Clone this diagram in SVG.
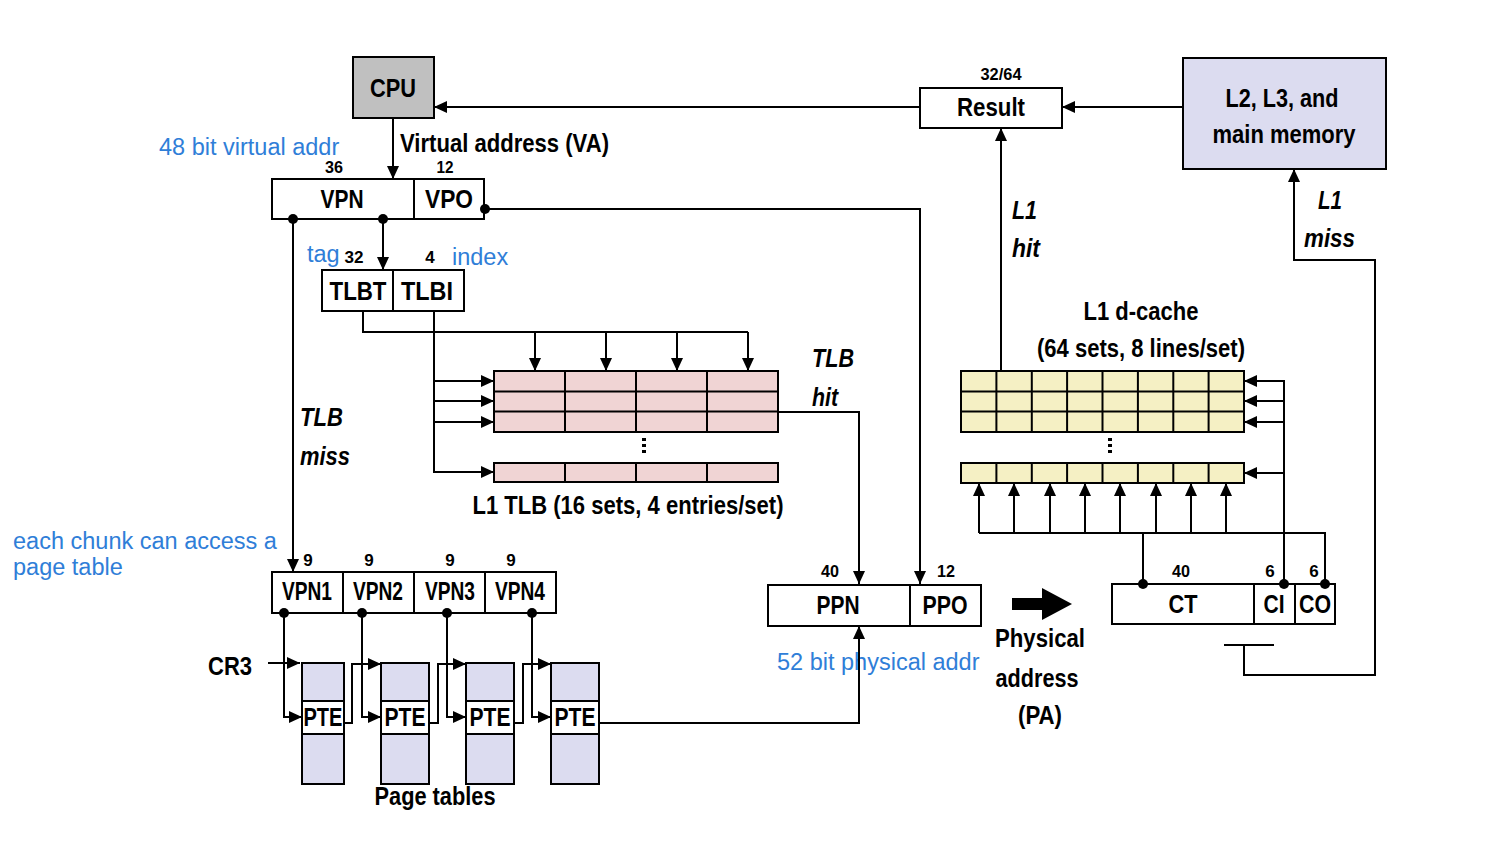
<svg xmlns="http://www.w3.org/2000/svg" width="1492" height="866" viewBox="0 0 1492 866">
  <style>
    .box { fill: #ffffff; stroke: #000000; stroke-width: 2; }
    .cpu { fill: #c0c0c0; }
    .mem { fill: #dcdcf0; }
    .tlb { fill: #f0d4d4; stroke: #000000; stroke-width: 2; }
    .cache { fill: #f5f0c4; stroke: #000000; stroke-width: 2; }
    .pt { fill: #dcdcf0; stroke: #000000; stroke-width: 2; }
    .wire { fill: none; stroke: #000000; stroke-width: 2; }
    .lbl { font-family: "Liberation Sans", Arial, Helvetica, sans-serif; font-weight: bold; font-size: 25px; text-anchor: middle; fill: #000000; }
    .num { font-size: 17px; }
    .it { font-style: italic; text-anchor: start; }
    .st { text-anchor: start; }
    .blue { font-family: "Liberation Sans", Arial, Helvetica, sans-serif; font-size: 23.5px; fill: #2f7ed8; }
  </style>
  <defs>
    <marker id="arr" markerUnits="userSpaceOnUse" markerWidth="13" markerHeight="12" refX="13" refY="6" orient="auto">
      <path d="M0,0 L13,6 L0,12 z" fill="#000000"/>
    </marker>
  </defs>

  <!-- CPU -->
  <g id="cpu">
    <rect class="box cpu" x="353" y="57" width="81" height="61"/>
    <text class="lbl" x="393" y="97" textLength="46" lengthAdjust="spacingAndGlyphs">CPU</text>
  </g>

  <!-- Result register -->
  <g id="result">
    <rect class="box" x="920" y="88" width="142" height="40"/>
    <text class="lbl num" x="1001" y="80" textLength="41" lengthAdjust="spacingAndGlyphs">32/64</text>
    <text class="lbl" x="991" y="116" textLength="68" lengthAdjust="spacingAndGlyphs">Result</text>
  </g>

  <!-- Lower memory hierarchy -->
  <g id="memory">
    <rect class="box mem" x="1183" y="58" width="203" height="111"/>
    <text class="lbl" x="1282" y="107" textLength="113" lengthAdjust="spacingAndGlyphs">L2, L3, and</text>
    <text class="lbl" x="1284" y="143" textLength="143" lengthAdjust="spacingAndGlyphs">main memory</text>
  </g>

  <!-- Virtual address -->
  <g id="va">
    <rect class="box" x="272" y="179" width="212" height="40"/>
    <line class="wire" x1="414" y1="179" x2="414" y2="219"/>
    <text class="lbl" x="342" y="208" textLength="43" lengthAdjust="spacingAndGlyphs">VPN</text>
    <text class="lbl" x="449" y="208" textLength="48" lengthAdjust="spacingAndGlyphs">VPO</text>
    <text class="lbl num" x="334" y="173" textLength="18" lengthAdjust="spacingAndGlyphs">36</text>
    <text class="lbl num" x="445" y="173" textLength="17" lengthAdjust="spacingAndGlyphs">12</text>
    <text class="lbl st" x="400" y="152" textLength="209" lengthAdjust="spacingAndGlyphs">Virtual address (VA)</text>
    <text class="blue" x="159" y="155">48 bit virtual addr</text>
  </g>

  <!-- TLB tag / index -->
  <g id="tlbti">
    <rect class="box" x="322" y="270" width="142" height="41"/>
    <line class="wire" x1="393" y1="270" x2="393" y2="311"/>
    <text class="lbl" x="358" y="300" textLength="57" lengthAdjust="spacingAndGlyphs">TLBT</text>
    <text class="lbl" x="427" y="300" textLength="52" lengthAdjust="spacingAndGlyphs">TLBI</text>
    <text class="lbl num" x="354" y="263" textLength="19" lengthAdjust="spacingAndGlyphs">32</text>
    <text class="lbl num" x="430" y="263">4</text>
    <text class="blue" x="307" y="262">tag</text>
    <text class="blue" x="452" y="265">index</text>
  </g>

  <!-- L1 TLB -->
  <g id="l1tlb">
    <rect class="tlb" x="494" y="371" width="284" height="61"/>
    <line class="wire" x1="494" y1="391.5" x2="778" y2="391.5"/>
    <line class="wire" x1="494" y1="411.5" x2="778" y2="411.5"/>
    <line class="wire" x1="565" y1="371" x2="565" y2="432"/>
    <line class="wire" x1="636" y1="371" x2="636" y2="432"/>
    <line class="wire" x1="707" y1="371" x2="707" y2="432"/>
    <rect class="tlb" x="494" y="463" width="284" height="19"/>
    <line class="wire" x1="565" y1="463" x2="565" y2="482"/>
    <line class="wire" x1="636" y1="463" x2="636" y2="482"/>
    <line class="wire" x1="707" y1="463" x2="707" y2="482"/>
    <rect x="642" y="438" width="4" height="3"/>
    <rect x="642" y="444" width="4" height="3"/>
    <rect x="642" y="450" width="4" height="3"/>
    <text class="lbl" x="628" y="514" textLength="311" lengthAdjust="spacingAndGlyphs">L1 TLB (16 sets, 4 entries/set)</text>
    <text class="lbl it" x="812" y="367" textLength="42" lengthAdjust="spacingAndGlyphs">TLB</text>
    <text class="lbl it" x="812" y="406" textLength="26" lengthAdjust="spacingAndGlyphs">hit</text>
    <text class="lbl it" x="300" y="426" textLength="43" lengthAdjust="spacingAndGlyphs">TLB</text>
    <text class="lbl it" x="300" y="465" textLength="50" lengthAdjust="spacingAndGlyphs">miss</text>
  </g>

  <!-- Page-table indices -->
  <g id="vpnparts">
    <rect class="box" x="272" y="572" width="284" height="41"/>
    <line class="wire" x1="343" y1="572" x2="343" y2="613"/>
    <line class="wire" x1="414" y1="572" x2="414" y2="613"/>
    <line class="wire" x1="485" y1="572" x2="485" y2="613"/>
    <text class="lbl" x="307" y="600" textLength="50" lengthAdjust="spacingAndGlyphs">VPN1</text>
    <text class="lbl" x="378" y="600" textLength="50" lengthAdjust="spacingAndGlyphs">VPN2</text>
    <text class="lbl" x="450" y="600" textLength="50" lengthAdjust="spacingAndGlyphs">VPN3</text>
    <text class="lbl" x="520" y="600" textLength="50" lengthAdjust="spacingAndGlyphs">VPN4</text>
    <text class="lbl num" x="308" y="566">9</text>
    <text class="lbl num" x="369" y="566">9</text>
    <text class="lbl num" x="450" y="566">9</text>
    <text class="lbl num" x="511" y="566">9</text>
    <text class="blue" x="13" y="549">each chunk can access a</text>
    <text class="blue" x="13" y="575">page table</text>
  </g>

  <!-- Page tables -->
  <g id="pagetables">
    <rect class="pt" x="302" y="663" width="42" height="121"/>
    <rect class="box" x="302" y="701" width="42" height="33"/>
    <rect class="pt" x="381" y="663" width="48" height="121"/>
    <rect class="box" x="381" y="701" width="48" height="33"/>
    <rect class="pt" x="466" y="663" width="48" height="121"/>
    <rect class="box" x="466" y="701" width="48" height="33"/>
    <rect class="pt" x="551" y="663" width="48" height="121"/>
    <rect class="box" x="551" y="701" width="48" height="33"/>
    <text class="lbl" x="323" y="726" textLength="39" lengthAdjust="spacingAndGlyphs">PTE</text>
    <text class="lbl" x="405" y="726" textLength="41" lengthAdjust="spacingAndGlyphs">PTE</text>
    <text class="lbl" x="490" y="726" textLength="41" lengthAdjust="spacingAndGlyphs">PTE</text>
    <text class="lbl" x="575" y="726" textLength="41" lengthAdjust="spacingAndGlyphs">PTE</text>
    <text class="lbl" x="230" y="675" textLength="44" lengthAdjust="spacingAndGlyphs">CR3</text>
    <text class="lbl" x="435" y="805" textLength="121" lengthAdjust="spacingAndGlyphs">Page tables</text>
  </g>

  <!-- Physical address -->
  <g id="pa">
    <rect class="box" x="768" y="585" width="213" height="41"/>
    <line class="wire" x1="910" y1="585" x2="910" y2="626"/>
    <text class="lbl" x="838" y="614" textLength="43" lengthAdjust="spacingAndGlyphs">PPN</text>
    <text class="lbl" x="945" y="614" textLength="45" lengthAdjust="spacingAndGlyphs">PPO</text>
    <text class="lbl num" x="830" y="577" textLength="18" lengthAdjust="spacingAndGlyphs">40</text>
    <text class="lbl num" x="946" y="577" textLength="18" lengthAdjust="spacingAndGlyphs">12</text>
    <text class="blue" x="777" y="670">52 bit physical addr</text>
    <path d="M1012,598 H1042 V588 L1072,604 L1042,620 V610 H1012 z" fill="#000000"/>
    <text class="lbl" x="1040" y="647" textLength="90" lengthAdjust="spacingAndGlyphs">Physical</text>
    <text class="lbl" x="1037" y="687" textLength="83" lengthAdjust="spacingAndGlyphs">address</text>
    <text class="lbl" x="1040" y="724" textLength="44" lengthAdjust="spacingAndGlyphs">(PA)</text>
  </g>

  <!-- Cache address fields -->
  <g id="cacheaddr">
    <rect class="box" x="1112" y="584" width="223" height="40"/>
    <line class="wire" x1="1254" y1="584" x2="1254" y2="624"/>
    <line class="wire" x1="1295" y1="584" x2="1295" y2="624"/>
    <text class="lbl" x="1183" y="613" textLength="29" lengthAdjust="spacingAndGlyphs">CT</text>
    <text class="lbl" x="1274" y="613" textLength="21" lengthAdjust="spacingAndGlyphs">CI</text>
    <text class="lbl" x="1315" y="613" textLength="32" lengthAdjust="spacingAndGlyphs">CO</text>
    <text class="lbl num" x="1181" y="577" textLength="18" lengthAdjust="spacingAndGlyphs">40</text>
    <text class="lbl num" x="1270" y="577">6</text>
    <text class="lbl num" x="1314" y="577">6</text>
  </g>

  <!-- L1 d-cache -->
  <g id="l1cache">
    <rect class="cache" x="961" y="371" width="283" height="61"/>
    <line class="wire" x1="961" y1="391.5" x2="1244" y2="391.5"/>
    <line class="wire" x1="961" y1="411.5" x2="1244" y2="411.5"/>
    <path class="wire" d="M996.4,371 V432 M1031.8,371 V432 M1067.1,371 V432 M1102.5,371 V432 M1137.9,371 V432 M1173.3,371 V432 M1208.6,371 V432"/>
    <rect class="cache" x="961" y="463" width="283" height="20"/>
    <path class="wire" d="M996.4,463 V483 M1031.8,463 V483 M1067.1,463 V483 M1102.5,463 V483 M1137.9,463 V483 M1173.3,463 V483 M1208.6,463 V483"/>
    <rect x="1108" y="438" width="4" height="3"/>
    <rect x="1108" y="444" width="4" height="3"/>
    <rect x="1108" y="450" width="4" height="3"/>
    <text class="lbl" x="1141" y="320" textLength="115" lengthAdjust="spacingAndGlyphs">L1 d-cache</text>
    <text class="lbl" x="1141" y="357" textLength="208" lengthAdjust="spacingAndGlyphs">(64 sets, 8 lines/set)</text>
    <text class="lbl it" x="1012" y="219" textLength="25" lengthAdjust="spacingAndGlyphs">L1</text>
    <text class="lbl it" x="1012" y="257" textLength="28" lengthAdjust="spacingAndGlyphs">hit</text>
    <text class="lbl it" x="1318" y="209" textLength="24" lengthAdjust="spacingAndGlyphs">L1</text>
    <text class="lbl it" x="1304" y="247" textLength="51" lengthAdjust="spacingAndGlyphs">miss</text>
  </g>

  <!-- Connectors -->
  <g id="connectors">
    <path class="wire" d="M920,107 H434" marker-end="url(#arr)"/>
    <path class="wire" d="M1183,107 H1062" marker-end="url(#arr)"/>
    <path class="wire" d="M393,118 V179" marker-end="url(#arr)"/>
    <path class="wire" d="M485,209 H920 V584" marker-end="url(#arr)"/>
    <path class="wire" d="M383,219 V270" marker-end="url(#arr)"/>
    <path class="wire" d="M293,219 V572" marker-end="url(#arr)"/>

    <path class="wire" d="M363,311 V332 H748"/>
    <path class="wire" d="M535,332 V371" marker-end="url(#arr)"/>
    <path class="wire" d="M606,332 V371" marker-end="url(#arr)"/>
    <path class="wire" d="M677,332 V371" marker-end="url(#arr)"/>
    <path class="wire" d="M748,332 V371" marker-end="url(#arr)"/>

    <path class="wire" d="M434,311 V472 H494" marker-end="url(#arr)"/>
    <path class="wire" d="M434,381 H494" marker-end="url(#arr)"/>
    <path class="wire" d="M434,401 H494" marker-end="url(#arr)"/>
    <path class="wire" d="M434,422 H494" marker-end="url(#arr)"/>

    <path class="wire" d="M778,412 H859 V584" marker-end="url(#arr)"/>
    <path class="wire" d="M599,723 H859 V626" marker-end="url(#arr)"/>

    <path class="wire" d="M284,613 V717 H302" marker-end="url(#arr)"/>
    <path class="wire" d="M362,613 V717 H381" marker-end="url(#arr)"/>
    <path class="wire" d="M447,613 V717 H466" marker-end="url(#arr)"/>
    <path class="wire" d="M532,613 V717 H551" marker-end="url(#arr)"/>
    <path class="wire" d="M268,663 H300" marker-end="url(#arr)"/>
    <path class="wire" d="M344,723 H352 V664 H381" marker-end="url(#arr)"/>
    <path class="wire" d="M429,723 H438 V664 H466" marker-end="url(#arr)"/>
    <path class="wire" d="M514,723 H523 V664 H551" marker-end="url(#arr)"/>

    <path class="wire" d="M1001,371 V128" marker-end="url(#arr)"/>
    <path class="wire" d="M1224,645 H1274 M1244,645 V675 H1375 V260 H1294 V169" marker-end="url(#arr)"/>

    <path class="wire" d="M1143,584 V533 M979,533 H1325 V584"/>
    <path class="wire" d="M979,533 V483" marker-end="url(#arr)"/>
    <path class="wire" d="M1014,533 V483" marker-end="url(#arr)"/>
    <path class="wire" d="M1050,533 V483" marker-end="url(#arr)"/>
    <path class="wire" d="M1085,533 V483" marker-end="url(#arr)"/>
    <path class="wire" d="M1120,533 V483" marker-end="url(#arr)"/>
    <path class="wire" d="M1156,533 V483" marker-end="url(#arr)"/>
    <path class="wire" d="M1191,533 V483" marker-end="url(#arr)"/>
    <path class="wire" d="M1226,533 V483" marker-end="url(#arr)"/>
    <path class="wire" d="M1284,584 V381 H1244" marker-end="url(#arr)"/>
    <path class="wire" d="M1284,401 H1244" marker-end="url(#arr)"/>
    <path class="wire" d="M1284,422 H1244" marker-end="url(#arr)"/>
    <path class="wire" d="M1284,473 H1244" marker-end="url(#arr)"/>

    <circle cx="485" cy="209" r="5"/>
    <circle cx="383" cy="219" r="5"/>
    <circle cx="293" cy="219" r="5"/>
    <circle cx="284" cy="613" r="5"/>
    <circle cx="362" cy="613" r="5"/>
    <circle cx="447" cy="613" r="5"/>
    <circle cx="532" cy="613" r="5"/>
    <circle cx="1143" cy="584" r="5"/>
    <circle cx="1284" cy="584" r="5"/>
    <circle cx="1325" cy="584" r="5"/>
  </g>
</svg>
